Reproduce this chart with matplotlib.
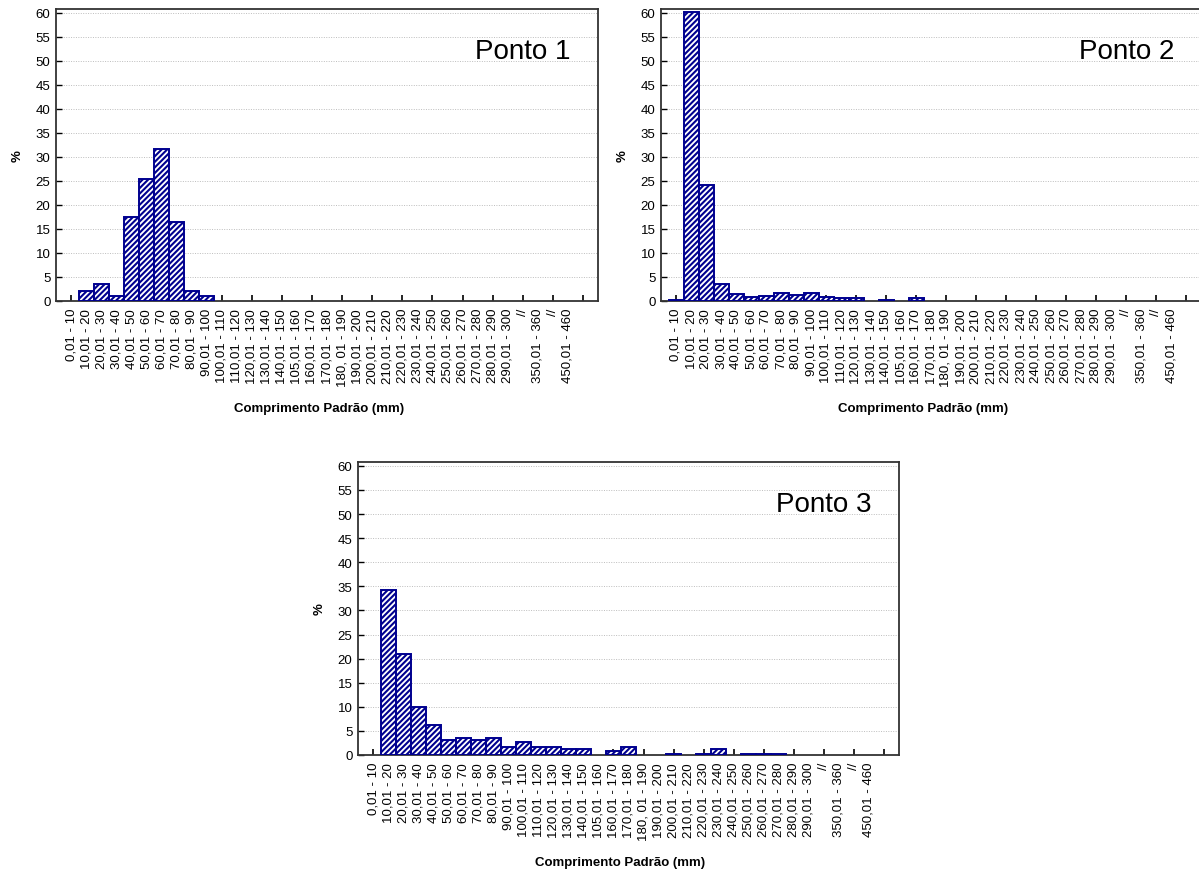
import numpy as np
import matplotlib.pyplot as plt

plt.rcParams['font.family'] = ['Liberation Sans', 'DejaVu Sans']
plt.rcParams['hatch.linewidth'] = 1.5

# Length classes (mm); the last ones are broken ranges marked with "//"
classes = [
    "0,01 - 10", "10,01 - 20", "20,01 - 30", "30,01 - 40", "40,01 - 50",
    "50,01 - 60", "60,01 - 70", "70,01 - 80", "80,01 - 90", "90,01 - 100",
    "100,01 - 110", "110,01 - 120", "120,01 - 130", "130,01 - 140",
    "140,01 - 150", "105,01 - 160", "160,01 - 170", "170,01 - 180",
    "180, 01 - 190", "190,01 - 200", "200,01 - 210", "210,01 - 220",
    "220,01 - 230", "230,01 - 240", "240,01 - 250", "250,01 - 260",
    "260,01 - 270", "270,01 - 280", "280,01 - 290", "290,01 - 300",
    "//", "350,01 - 360", "//", "450,01 - 460",
]

# Frequency (%) per class at each site
ponto1 = [0, 2.0, 3.6, 1.0, 17.5, 25.5, 31.6, 16.4, 2.0, 1.0,
          0, 0, 0, 0, 0, 0, 0, 0, 0, 0,
          0, 0, 0, 0, 0, 0, 0, 0, 0, 0,
          0, 0, 0, 0]
ponto2 = [0.3, 60.2, 24.1, 3.6, 1.4, 0.9, 1.1, 1.7, 1.2, 1.7,
          0.9, 0.6, 0.6, 0, 0.3, 0, 0.6, 0, 0, 0,
          0, 0, 0, 0, 0, 0, 0, 0, 0, 0,
          0, 0, 0, 0]
ponto3 = [0, 34.2, 20.9, 10.0, 6.3, 3.1, 3.6, 3.1, 3.6, 1.7,
          2.8, 1.7, 1.7, 1.2, 1.2, 0, 0.9, 1.7, 0, 0,
          0.3, 0, 0.3, 1.2, 0, 0.3, 0.3, 0.3, 0, 0,
          0, 0, 0, 0]

titles = ["Ponto 1", "Ponto 2", "Ponto 3"]

W, H = 1199, 870
fig = plt.figure(figsize=(W / 100, H / 100), dpi=100)


def px_axes(left, right, top, bottom):
    return fig.add_axes([left / W, 1 - bottom / H, (right - left) / W, (bottom - top) / H])


def histo(ax, values, title):
    x = np.arange(len(values))
    vals = np.array(values)
    keep = vals > 0  # empty classes get no bar
    ax.bar(x[keep], vals[keep], width=1.0, facecolor='white', edgecolor='#00008F',
           hatch='//////', linewidth=1.4, zorder=3)
    ax.set_xlim(-1, len(values) + 1)
    ax.set_ylim(0, 60.8)
    ax.set_yticks(np.arange(0, 61, 5))
    ax.yaxis.grid(True, linestyle=(0, (1, 1.5)), color='#bdbdbd', linewidth=0.7, zorder=0)
    ax.set_axisbelow(True)

    # every class gets a label, but only every other class gets a tick mark
    ax.set_xticks(x)
    ax.set_xticklabels(classes, rotation=90, fontsize=9.5)
    ax.tick_params(axis='x', which='major', direction='in', length=4, width=1.2, pad=5)
    for i, t in enumerate(ax.xaxis.get_major_ticks()):
        t.tick1line.set_visible(i % 2 == 0)
    ax.set_xticks([len(values)], minor=True)
    ax.tick_params(axis='x', which='minor', direction='in', length=4, width=1.2)
    ax.tick_params(axis='y', direction='in', length=4, width=1, labelsize=9.5, pad=4)

    for sp in ax.spines.values():
        sp.set_linewidth(1.3)
        sp.set_color('#333333')

    ax.set_xlabel("Comprimento Padrão (mm)", fontsize=9.5, fontweight='bold')
    ax.xaxis.set_label_coords(0.485, -0.345)
    ax.set_ylabel("%", fontsize=9.5, fontweight='bold')
    ax.yaxis.set_label_coords(-0.06, 0.5)

    ax.text(0.95, 0.855, title, transform=ax.transAxes, ha='right', va='center',
            fontsize=20)


ax1 = px_axes(56, 598, 10, 302)
ax2 = px_axes(661, 1201, 10, 302)
ax3 = px_axes(358, 899, 463, 756)

histo(ax1, ponto1, titles[0])
histo(ax2, ponto2, titles[1])
histo(ax3, ponto3, titles[2])

fig.savefig("out.png", dpi=100)
